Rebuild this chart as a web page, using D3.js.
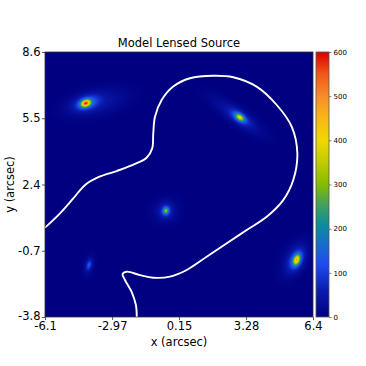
<!DOCTYPE html>
<html>
<head>
<meta charset="utf-8">
<script src="https://cdn.jsdelivr.net/npm/d3@7"></script>
<style>
  body { margin: 0; background: #fff; }
  svg { display: block; font-family: "DejaVu Sans", sans-serif; }
</style>
</head>
<body>
<div id="chart"></div>
<script>
// Tick labels
const xTicks = [-6.1, -2.97, 0.15, 3.28, 6.4];
const yTicks = [-3.8, -0.7, 2.4, 5.5, 8.6];
const cbTicks = [0, 100, 200, 300, 400, 500, 600];

// Source light components (arcsec): centre, peak, sigma along / across, angle in degrees
const srcX     = [-4.20, -4.15, -3.70,  2.99,  2.99,  2.85,  5.64,  5.62,  5.55, -0.46, -0.46, -0.46, -4.05, -4.05];
const srcY     = [ 6.20,  6.22,  6.25,  5.54,  5.54,  5.62, -1.13, -1.12, -1.08,  1.17,  1.17,  1.17, -1.37, -1.37];
const srcPeak  = [  430,   120,    45,   270,    90,    40,   330,   100,    40,   220,    70,    25,    90,    35];
const srcSigA  = [ 0.16,  0.40,  1.00,  0.16,  0.40,  1.05,  0.18,  0.38,  0.65,  0.11,  0.26,  0.48,  0.16,  0.32];
const srcSigB  = [ 0.11,  0.22,  0.40,  0.10,  0.18,  0.26,  0.11,  0.22,  0.36,  0.09,  0.22,  0.42,  0.08,  0.17];
const srcAngle = [   20,    18,    12,   -35,   -35,   -35,    70,    65,    60,    80,    80,     0,    75,    75];

// Caustic / critical curve (arcsec)
const curveX = [-6.10, -5.40, -4.78, -4.23, -3.61, -2.76, -1.90, -1.36, -1.10, -1.05, -0.97, -0.66, -0.12, 0.66, 1.75, 2.68, 3.77, 4.71, 5.41, 5.67, 5.48, 5.01, 4.24, 3.31, 2.38, 1.44, 0.51, -0.27, -1.05, -1.67, -2.29, -2.48, -2.37, -2.06, -1.86, -1.82];
const curveY = [ 0.38,  1.05,  1.75,  2.38,  2.74,  3.03,  3.36,  3.65,  4.09,  4.80,  5.57,  6.35,  6.98, 7.37, 7.49, 7.42, 6.98, 6.12, 5.10, 3.86, 2.61, 1.67, 0.89, 0.27, -0.35, -0.98, -1.60, -1.91, -1.96, -1.84, -1.68, -1.79, -2.07, -2.62, -3.24, -3.85];

// Colour map stops
const cmapValues = [0, 60, 120, 170, 210, 260, 300, 350, 400, 450, 500, 550, 600];
const cmapColors = ["#000080", "#0a1cb0", "#1e4cf0", "#1670c8", "#0e8c9a", "#4aa450", "#84bc00", "#c0cc00", "#f0d800", "#f8b818", "#f88c28", "#f05818", "#d80000"];

const width = 366;
const height = 366;
const margin = { left: 45, top: 52, right: 53, bottom: 49 };
const plotW = width - margin.left - margin.right;
const plotH = height - margin.top - margin.bottom;

const svg = d3.select("#chart")
  .append("svg")
  .attr("width", width)
  .attr("height", height);

const x = d3.scaleLinear().domain([-6.1, 6.4]).range([margin.left, margin.left + plotW]);
const y = d3.scaleLinear().domain([-3.8, 8.6]).range([margin.top + plotH, margin.top]);

const color = d3.scaleLinear()
  .domain(cmapValues)
  .range(cmapColors)
  .clamp(true);

// Build the image on a canvas
const canvas = document.createElement("canvas");
canvas.width = plotW;
canvas.height = plotH;
const ctx = canvas.getContext("2d");
const img = ctx.createImageData(plotW, plotH);

const comps = srcX.map((_, i) => {
  const a = srcAngle[i] * Math.PI / 180;
  return { cx: srcX[i], cy: srcY[i], peak: srcPeak[i], sa: srcSigA[i], sb: srcSigB[i], cos: Math.cos(a), sin: Math.sin(a) };
});

for (let j = 0; j < plotH; j++) {
  const py = y.invert(margin.top + j + 0.5);
  for (let i = 0; i < plotW; i++) {
    const px = x.invert(margin.left + i + 0.5);
    let v = 0;
    comps.forEach((c) => {
      const dx = px - c.cx;
      const dy = py - c.cy;
      const u = dx * c.cos + dy * c.sin;
      const w = -dx * c.sin + dy * c.cos;
      v += c.peak * Math.exp(-0.5 * ((u / c.sa) ** 2 + (w / c.sb) ** 2));
    });
    const col = d3.rgb(color(v));
    const k = (j * plotW + i) * 4;
    img.data[k] = col.r;
    img.data[k + 1] = col.g;
    img.data[k + 2] = col.b;
    img.data[k + 3] = 255;
  }
}
ctx.putImageData(img, 0, 0);

svg.append("image")
  .attr("x", margin.left)
  .attr("y", margin.top)
  .attr("width", plotW)
  .attr("height", plotH)
  .attr("preserveAspectRatio", "none")
  .attr("href", canvas.toDataURL());

// Clip for the curve
svg.append("clipPath")
  .attr("id", "plot-clip")
  .append("rect")
  .attr("x", margin.left)
  .attr("y", margin.top)
  .attr("width", plotW)
  .attr("height", plotH);

const line = d3.line()
  .x((d) => x(d[0]))
  .y((d) => y(d[1]))
  .curve(d3.curveCatmullRom);

svg.append("path")
  .datum(curveX.map((d, i) => [d, curveY[i]]))
  .attr("clip-path", "url(#plot-clip)")
  .attr("d", line)
  .attr("fill", "none")
  .attr("stroke", "#fff")
  .attr("stroke-width", 1.9);

// Frame
svg.append("rect")
  .attr("x", margin.left)
  .attr("y", margin.top)
  .attr("width", plotW)
  .attr("height", plotH)
  .attr("fill", "none")
  .attr("stroke", "#333")
  .attr("stroke-width", 0.8);

// Axes
const xAxis = svg.append("g")
  .attr("transform", `translate(0, ${margin.top + plotH})`)
  .call(d3.axisBottom(x).tickValues(xTicks).tickFormat((d) => String(d)).tickSize(3).tickSizeOuter(0).tickPadding(1.5));

const yAxis = svg.append("g")
  .attr("transform", `translate(${margin.left}, 0)`)
  .call(d3.axisLeft(y).tickValues(yTicks).tickFormat((d) => String(d)).tickSize(3).tickSizeOuter(0).tickPadding(1.5));

[xAxis, yAxis].forEach((g) => {
  g.select(".domain").remove();
  g.selectAll(".tick line").attr("stroke", "#333").attr("stroke-width", 0.8);
  g.selectAll(".tick text")
    .attr("fill", "#000")
    .style("font-size", "11.5px")
    .style("font-family", "DejaVu Sans, sans-serif");
});
// nudge the lowest y label up a touch so it clears the first x label
yAxis.selectAll(".tick text").filter((d) => d === -3.8).attr("dy", "0.2em");

// Title and axis labels
svg.append("text")
  .attr("x", margin.left + plotW / 2)
  .attr("y", 47)
  .attr("text-anchor", "middle")
  .style("font-size", "11.5px")
  .text("Model Lensed Source");

svg.append("text")
  .attr("x", margin.left + plotW / 2)
  .attr("y", 346)
  .attr("text-anchor", "middle")
  .style("font-size", "11.5px")
  .text("x (arcsec)");

svg.append("text")
  .attr("transform", `translate(14, ${margin.top + plotH / 2}) rotate(-90)`)
  .attr("text-anchor", "middle")
  .style("font-size", "11.5px")
  .text("y (arcsec)");

// Colour bar
const cbX = 316;
const cbW = 13;
const cb = d3.scaleLinear().domain([0, 600]).range([margin.top + plotH, margin.top]);

const grad = svg.append("defs")
  .append("linearGradient")
  .attr("id", "cb-grad")
  .attr("x1", 0).attr("y1", 1)
  .attr("x2", 0).attr("y2", 0);

grad.selectAll("stop")
  .data(cmapValues)
  .enter()
  .append("stop")
  .attr("offset", (d) => d / 600)
  .attr("stop-color", (d, i) => cmapColors[i]);

svg.append("rect")
  .attr("x", cbX)
  .attr("y", margin.top)
  .attr("width", cbW)
  .attr("height", plotH)
  .attr("fill", "url(#cb-grad)")
  .attr("stroke", "#555")
  .attr("stroke-width", 0.8);

const cbAxis = svg.append("g")
  .attr("transform", `translate(${cbX + cbW}, 0)`)
  .call(d3.axisRight(cb).tickValues(cbTicks).tickSize(2.5).tickSizeOuter(0).tickPadding(2));

cbAxis.select(".domain").remove();
cbAxis.selectAll(".tick line").attr("stroke", "#333").attr("stroke-width", 0.6);
cbAxis.selectAll(".tick text")
  .attr("fill", "#000")
  .style("font-size", "7px")
  .style("font-family", "DejaVu Sans, sans-serif");
</script>
</body>
</html>
